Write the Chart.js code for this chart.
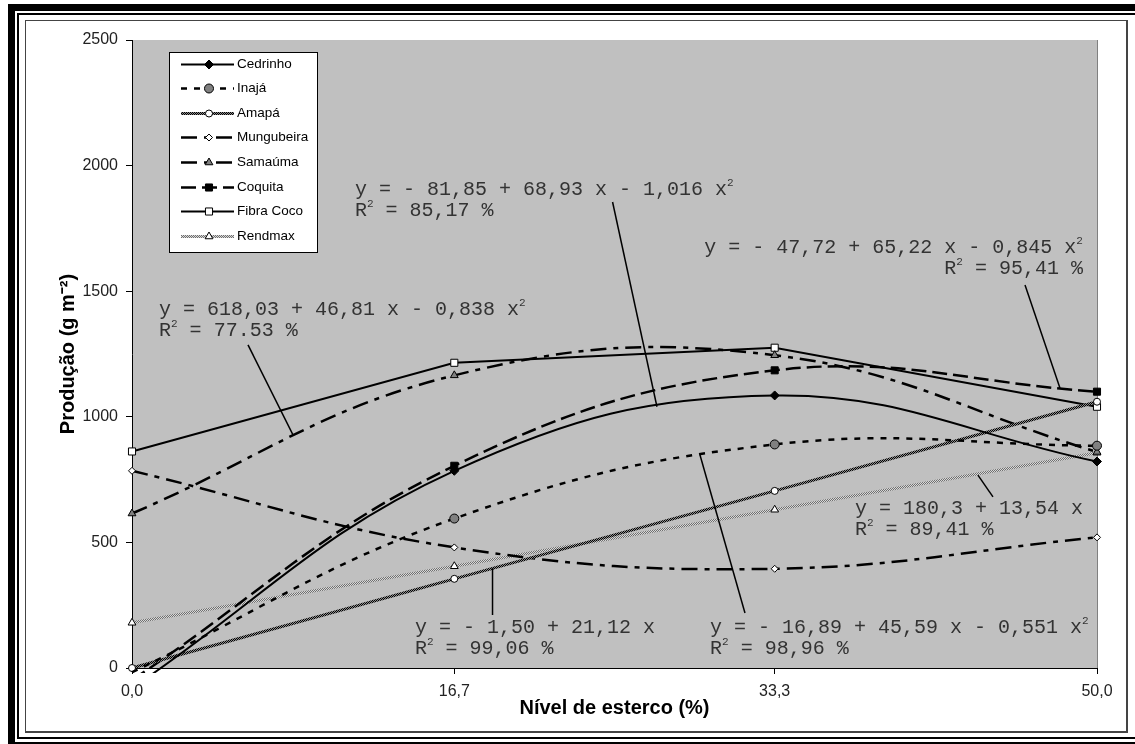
<!DOCTYPE html>
<html>
<head>
<meta charset="utf-8">
<title>Produção x Nível de esterco</title>
<script src="https://cdn.jsdelivr.net/npm/chart.js@4.4.0/dist/chart.umd.min.js"></script>
<style>
  html, body { margin: 0; padding: 0; background: #fff; }
  body { width: 1135px; height: 744px; overflow: hidden; position: relative; }
  .frame { position: absolute; box-sizing: border-box; }
  #outer { left: 8px; top: 4px; width: 1200px; height: 745px; border: 7px solid #000; }
  #middle { left: 17px; top: 13px; width: 1200px; height: 726px; border: 2px solid #000; }
  #inner { left: 25px; top: 20px; width: 1103px; height: 713px; border: 1px solid #444;
           border-right-width: 2px; border-bottom-width: 2px; }
  #c { position: absolute; left: 0; top: 0; }
</style>
</head>
<body>
<div class="frame" id="outer"></div>
<div class="frame" id="middle"></div>
<div class="frame" id="inner"></div>
<canvas id="c" width="1135" height="744"></canvas>
<script>
// manure levels (%) and tick labels
const xLevels = [0, 16.7, 33.3, 50];
const xTickLabels = ['0,0', '16,7', '33,3', '50,0'];
const yTicks = [0, 500, 1000, 1500, 2000, 2500];

// production (g m-2)
const seriesNames = ['Cedrinho', 'Inajá', 'Amapá', 'Mungubeira', 'Samaúma', 'Coquita', 'Fibra Coco', 'Rendmax'];
const cedrinho   = [-80, 785, 1085, 822];
const inaja      = [-17, 595, 890, 885];
const amapa      = [0, 355, 705, 1060];
const mungubeira = [785, 480, 395, 520];
const samauma    = [615, 1165, 1245, 860];
const coquita    = [-48, 805, 1185, 1100];
const fibraCoco  = [862, 1215, 1275, 1040];
const rendmax    = [180, 405, 630, 857];

// fitted equations shown on the chart
const eqCedrinho = ['y = - 81,85 + 68,93 x - 1,016 x^2', 'R^2 = 85,17 %'];
const eqCoquita  = ['y = - 47,72 + 65,22 x - 0,845 x^2', 'R^2 = 95,41 %'];
const eqSamauma  = ['y = 618,03 + 46,81 x - 0,838 x^2', 'R^2 = 77.53 %'];
const eqRendmax  = ['y = 180,3 + 13,54 x', 'R^2 = 89,41 %'];
const eqAmapa    = ['y = - 1,50 + 21,12 x', 'R^2 = 99,06 %'];
const eqInaja    = ['y = - 16,89 + 45,59 x - 0,551 x^2', 'R^2 = 98,96 %'];

const ctx = document.getElementById('c').getContext('2d');

// stippled line texture like the old excel "patterned" lines
function stipple(dark, light) {
  const p = document.createElement('canvas');
  p.width = 2; p.height = 2;
  const g = p.getContext('2d');
  g.fillStyle = light; g.fillRect(0, 0, 2, 2);
  g.fillStyle = dark; g.fillRect(0, 0, 1, 1); g.fillRect(1, 1, 1, 1);
  return ctx.createPattern(p, 'repeat');
}

const seriesValues = [cedrinho, inaja, amapa, mungubeira, samauma, coquita, fibraCoco, rendmax];
const styles = [
  { color: '#000', width: 2,   dash: [],            tension: 0.4, point: 'rectRot',  r: 4.5, fill: '#000' },
  { color: '#000', width: 2.5, dash: [6, 7],        tension: 0.4, point: 'circle',   r: 4.5, fill: '#808080' },
  { color: stipple('#000', '#8c8c8c'), width: 3, dash: [], tension: 0, point: 'circle', r: 3.5, fill: '#fff' },
  { color: '#000', width: 2.5, dash: [16, 7, 5, 7], tension: 0.4, point: 'rectRot',  r: 3.5, fill: '#fff' },
  { color: '#000', width: 2.5, dash: [16, 7, 5, 7], tension: 0.4, point: 'triangle', r: 4.5, fill: '#808080' },
  { color: '#000', width: 2.5, dash: [15, 6],       tension: 0.4, point: 'rect',     r: 5,   fill: '#000' },
  { color: '#000', width: 2,   dash: [],            tension: 0,   point: 'rect',     r: 5,   fill: '#fff' },
  { color: stipple('#6e6e6e', '#d8d8d8'), width: 3, dash: [], tension: 0, point: 'triangle', r: 4.5, fill: '#fff' }
];

const datasets = seriesNames.map((name, i) => {
  const s = styles[i];
  return {
    label: name,
    data: xLevels.map((x, j) => ({ x: x, y: seriesValues[i][j] })),
    borderColor: s.color,
    borderWidth: s.width,
    borderDash: s.dash,
    tension: s.tension,
    pointStyle: s.point,
    pointRadius: c => (c.raw && c.raw.y < 0 ? 0 : s.r),
    pointBackgroundColor: s.fill,
    pointBorderColor: '#000',
    pointBorderWidth: 1,
    fill: false,
    clip: { left: 8, top: 8, right: 8, bottom: 5 }
  };
});

// data-anchored callouts: text anchor + leader line
const callouts = [
  { lines: eqCedrinho, at: [11.55, 1883], align: 'left',  from: [24.9, 1855],  to: [27.2, 1040] },
  { lines: eqCoquita,  at: [49.27, 1652], align: 'right', from: [46.27, 1525], to: [48.08, 1115] },
  { lines: eqSamauma,  at: [1.40, 1405],  align: 'left',  from: [6.01, 1286],  to: [8.34, 928] },
  { lines: eqRendmax,  at: [37.46, 613],  align: 'left',  from: [44.61, 681],  to: [43.83, 768] },
  { lines: eqAmapa,    at: [14.66, 139],  align: 'left',  from: [18.68, 211],  to: [18.68, 398] },
  { lines: eqInaja,    at: [29.95, 139],  align: 'left',  from: [31.76, 219],  to: [29.43, 848] }
];

const plotBackground = {
  id: 'plotBackground',
  beforeDraw(chart) {
    const { ctx, chartArea: a } = chart;
    ctx.save();
    ctx.fillStyle = '#c0c0c0';
    ctx.fillRect(a.left, a.top, a.right - a.left, a.bottom - a.top);
    ctx.strokeStyle = '#808080';
    ctx.lineWidth = 1;
    ctx.beginPath();
    ctx.moveTo(a.right + 0.5, a.top);
    ctx.lineTo(a.right + 0.5, a.bottom);
    ctx.stroke();
    ctx.restore();
  }
};

const mainFont = '20px "Liberation Mono", "Courier New", monospace';
const supFont = '11px "Liberation Mono", "Courier New", monospace';

function splitSup(line) {
  // "x^2" -> [["x", false], ["2", true]]
  const parts = [];
  const bits = line.split('^');
  parts.push([bits[0], false]);
  for (let i = 1; i < bits.length; i++) {
    parts.push([bits[i].charAt(0), true]);
    if (bits[i].length > 1) parts.push([bits[i].slice(1), false]);
  }
  return parts;
}

const equations = {
  id: 'equations',
  afterDatasetsDraw(chart) {
    const { ctx, scales: { x, y } } = chart;
    ctx.save();
    callouts.forEach(c => {
      ctx.strokeStyle = '#000';
      ctx.lineWidth = 1.5;
      ctx.setLineDash([]);
      ctx.beginPath();
      ctx.moveTo(x.getPixelForValue(c.from[0]), y.getPixelForValue(c.from[1]));
      ctx.lineTo(x.getPixelForValue(c.to[0]), y.getPixelForValue(c.to[1]));
      ctx.stroke();

      const px = x.getPixelForValue(c.at[0]);
      const py = y.getPixelForValue(c.at[1]);
      ctx.fillStyle = '#333';
      ctx.textBaseline = 'alphabetic';
      ctx.textAlign = 'left';
      c.lines.forEach((line, li) => {
        const parts = splitSup(line);
        let w = 0;
        parts.forEach(p => { ctx.font = p[1] ? supFont : mainFont; w += ctx.measureText(p[0]).width; });
        let cx = c.align === 'right' ? px - w : px;
        const by = py + li * 21;
        parts.forEach(p => {
          ctx.font = p[1] ? supFont : mainFont;
          ctx.fillText(p[0], cx, p[1] ? by - 9 : by);
          cx += ctx.measureText(p[0]).width;
        });
      });
    });
    ctx.restore();
  }
};

const legendBox = {
  id: 'legendBox',
  afterDraw(chart) {
    const { ctx, chartArea: a } = chart;
    const left = a.left + 37, top = a.top + 12, w = 148, h = 200;
    ctx.save();
    ctx.fillStyle = '#fff';
    ctx.fillRect(left, top, w, h);
    ctx.strokeStyle = '#000';
    ctx.lineWidth = 1;
    ctx.strokeRect(left + 0.5, top + 0.5, w, h);
    chart.data.datasets.forEach((ds, i) => {
      const ry = Math.round(top + 11.5 + i * 24.6) + 0.5;
      ctx.strokeStyle = ds.borderColor;
      ctx.lineWidth = ds.borderWidth;
      ctx.setLineDash(ds.borderDash);
      ctx.beginPath();
      ctx.moveTo(left + 12, ry);
      ctx.lineTo(left + 65, ry);
      ctx.stroke();
      ctx.setLineDash([]);
      ctx.fillStyle = ds.pointBackgroundColor;
      ctx.strokeStyle = '#000';
      ctx.lineWidth = 1;
      Chart.helpers.drawPoint(ctx, { pointStyle: ds.pointStyle, radius: styles[i].r, rotation: 0, borderWidth: 1 }, left + 40, ry);
      ctx.fillStyle = '#000';
      ctx.font = '13.5px "Liberation Sans", Arial, sans-serif';
      ctx.textBaseline = 'middle';
      ctx.fillText(ds.label, left + 68, ry);
    });
    ctx.restore();
  }
};

Chart.defaults.font.family = '"Liberation Sans", Arial, sans-serif';
Chart.defaults.color = '#222';

new Chart(ctx, {
  type: 'line',
  data: { datasets: datasets },
  options: {
    responsive: false,
    animation: false,
    layout: { padding: { left: 30, right: 38, top: 40, bottom: 20 } },
    plugins: { legend: { display: false }, tooltip: { enabled: false } },
    scales: {
      x: {
        type: 'linear',
        min: 0,
        max: 50,
        afterBuildTicks: s => { s.ticks = xLevels.map(v => ({ value: v })); },
        afterFit: s => { s.height = 56; },
        ticks: {
          autoSkip: false,
          maxRotation: 0,
          padding: 8,
          font: { size: 16 },
          color: '#222',
          callback: v => xTickLabels[xLevels.indexOf(v)] ?? ''
        },
        grid: { drawOnChartArea: false, drawTicks: true, tickLength: 6, color: '#000' },
        border: { display: true, color: '#000', width: 1 },
        title: {
          display: true,
          text: 'Nível de esterco (%)',
          font: { size: 20, weight: 'bold' },
          color: '#000',
          padding: { top: 0, bottom: 4 }
        }
      },
      y: {
        min: 0,
        max: 2500,
        afterBuildTicks: s => { s.ticks = yTicks.map(v => ({ value: v })); },
        afterFit: s => { s.width = 102; },
        ticks: { padding: 8, font: { size: 16 }, color: '#222', callback: v => String(v) },
        grid: { drawOnChartArea: false, drawTicks: true, tickLength: 6, color: '#000' },
        border: { display: true, color: '#000', width: 1 },
        title: {
          display: true,
          text: 'Produção (g m⁻²)',
          font: { size: 20, weight: 'bold' },
          color: '#000',
          padding: { top: 26, bottom: 0 }
        }
      }
    }
  },
  plugins: [plotBackground, equations, legendBox]
});
</script>
</body>
</html>
